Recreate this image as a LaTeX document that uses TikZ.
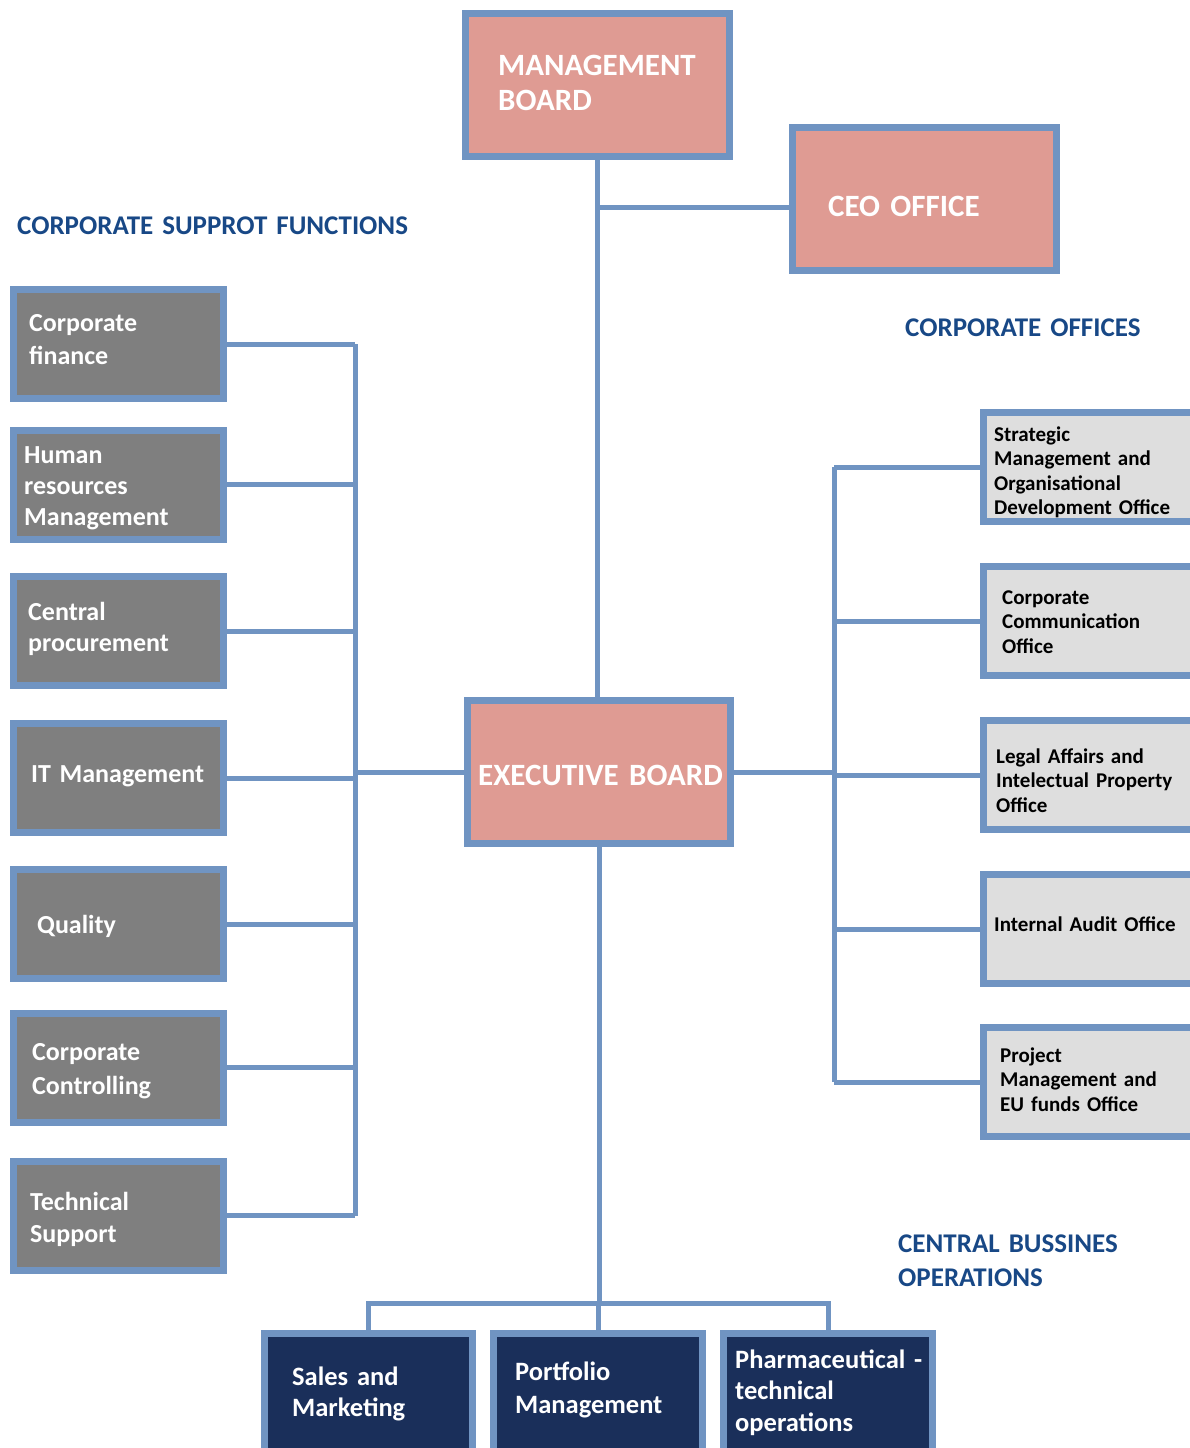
\documentclass[tikz,border=0pt]{standalone}
\usepackage{fontspec}
\setmainfont{Carlito}
\definecolor{bordc}{HTML}{7094C2}
\definecolor{pinkc}{HTML}{DF9B93}
\definecolor{grayc}{HTML}{7F7F7F}
\definecolor{lightc}{HTML}{DEDEDE}
\definecolor{navyc}{HTML}{1A2F5A}
\definecolor{headc}{HTML}{184886}
\tikzset{
  x=1pt, y=-1pt,
  boxbase/.style={draw=bordc, line width=7pt, inner sep=0pt, rectangle},
  pinkbox/.style={boxbase, fill=pinkc},
  graybox/.style={boxbase, fill=grayc, minimum width=210pt, minimum height=109pt},
  lightbox/.style={boxbase, fill=lightc, minimum width=226.5pt, minimum height=109pt},
  navybox/.style={boxbase, fill=navyc, minimum width=208.5pt, minimum height=136.5pt},
  conn/.style={draw=bordc, line width=5pt},
  txt/.style={anchor=base west, inner sep=0pt, text width=520pt, align=left},
  bigtxt/.style={txt, text=white, font=\fontsize{31}{35}\selectfont\bfseries},
  lefttxt/.style={txt, text=white, font=\fontsize{26}{32}\selectfont\bfseries},
  righttxt/.style={txt, text=black, font=\fontsize{21}{24.6}\selectfont\bfseries},
  bottxt/.style={txt, text=white, font=\fontsize{26.5}{31.5}\selectfont\bfseries},
  headtxt/.style={txt, text=headc, font=\fontsize{27}{34}\selectfont\bfseries},
}
\begin{document}
\begin{tikzpicture}
\useasboundingbox (0,0) rectangle (1189,1448);
% top boxes
\node[pinkbox, minimum width=264pt, minimum height=143pt] (MB) at (597.5,85) {};
\node[pinkbox, minimum width=264pt, minimum height=143pt] (CEO) at (924.5,199) {};
\node[pinkbox, minimum width=263pt, minimum height=143pt] (EB) at (599,772) {};
% left boxes
\node[graybox] (CF) at (118.5,344) {};
\node[graybox] (HR) at (118.5,484.5) {};
\node[graybox] (CP) at (118.5,631) {};
\node[graybox] (IT) at (118.5,778) {};
\node[graybox] (QU) at (118.5,924) {};
\node[graybox] (CC) at (118.5,1067.5) {};
\node[graybox] (TS) at (118.5,1215.5) {};
% right boxes
\node[lightbox] (SM) at (1096.75,467) {};
\node[lightbox] (CM) at (1096.75,621) {};
\node[lightbox] (LA) at (1096.75,775) {};
\node[lightbox] (IA) at (1096.75,929) {};
\node[lightbox] (PM) at (1096.75,1082) {};
% bottom boxes
\node[navybox] (SA) at (368.5,1401.75) {};
\node[navybox] (PF) at (598,1401.75) {};
\node[navybox] (PH) at (828,1401.75) {};
% coordinates
\coordinate (j1) at (597.5,207);
\coordinate (lbus) at (355,0);
\coordinate (rbus) at (834,0);
\coordinate (bj) at (597.5,1303);
% connectors
\draw[conn] (MB.south) -- (MB.south |- EB.north);
\draw[conn] (j1) -- (j1 -| CEO.west);
\foreach \b in {CF,HR,CP,IT,QU,CC,TS} \draw[conn] (\b.east) -- (\b.east -| lbus);
\draw[conn] (CF.east -| lbus) -- (TS.east -| lbus);
\draw[conn] (EB.west) -- (EB.west -| lbus);
\foreach \b in {SM,CM,LA,IA,PM} \draw[conn] (\b.west) -- (\b.west -| rbus);
\draw[conn] (SM.west -| rbus) -- (PM.west -| rbus);
\draw[conn] (EB.east) -- (EB.east -| rbus);
\draw[conn] (EB.south) -- (EB.south |- bj);
\draw[conn] (SA.north) -- (SA.north |- bj) -- (PH.north |- bj) -- (PH.north);
\draw[conn] (PF.north) -- (PF.north |- bj);
% texts
\node[bigtxt] (tMB) at (498,75) {MANAGEMENT\\BOARD};
\node[bigtxt] (tCEO) at (828,216) {CEO OFFICE};
\node[bigtxt] (tEB) at (478,785) {EXECUTIVE BOARD};
\node[lefttxt] (tCF) at (29,331) {Corporate\\[1pt]finance};
\node[lefttxt] (tHR) at (24,463) {Human\\[-1pt]resources\\[-1pt]Management};
\node[lefttxt] (tCP) at (28,620) {Central\\[-1pt]procurement};
\node[lefttxt] (tIT) at (31,782) {IT Management};
\node[lefttxt] (tQU) at (37,933) {Quality};
\node[lefttxt] (tCC) at (32,1060) {Corporate\\[2pt]Controlling};
\node[lefttxt] (tTS) at (30,1210) {Technical\\Support};
\node[righttxt] (tSM) at (994,441) {Strategic\\Management and\\Organisational\\Development Office};
\node[righttxt] (tCM) at (1002,604) {Corporate\\Communication\\Office};
\node[righttxt] (tLA) at (996,763) {Legal Affairs and\\Intelectual Property\\Office};
\node[righttxt] (tIA) at (994,931) {Internal Audit Office};
\node[righttxt] (tPM) at (1000,1062) {Project\\Management and\\EU funds Office};
\node[bottxt] (tSA) at (292,1385) {Sales and\\Marketing};
\node[bottxt] (tPF) at (515,1380) {Portfolio\\[1.5pt]Management};
\node[bottxt] (tPH) at (735,1368) {Pharmaceutical -\\technical\\operations};
\node[headtxt] (hCSF) at (17,234) {CORPORATE SUPPROT FUNCTIONS};
\node[headtxt] (hCO) at (905,336) {CORPORATE OFFICES};
\node[headtxt] (hCBO) at (898,1252) {CENTRAL BUSSINES\\OPERATIONS};
\end{tikzpicture}
\end{document}
